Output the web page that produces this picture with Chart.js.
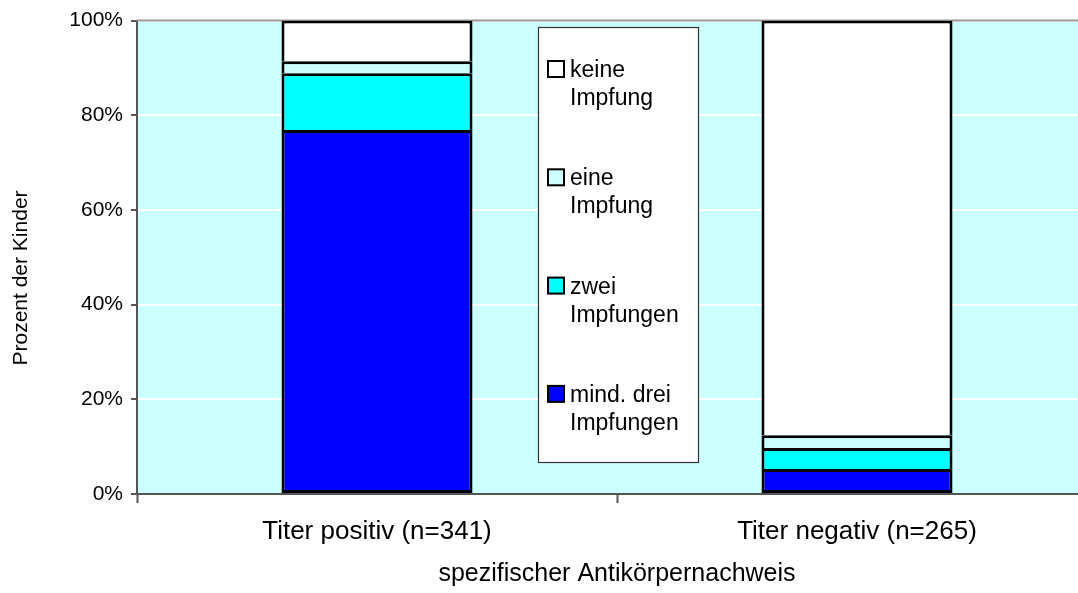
<!DOCTYPE html>
<html><head><meta charset="utf-8">
<script src="https://cdn.jsdelivr.net/npm/chart.js@4.4.0/dist/chart.umd.min.js"></script>
<style>
html,body{margin:0;padding:0;background:#fff;overflow:hidden;width:1078px;height:593px}
#wrap{position:relative;width:1100px;height:593px}
</style></head><body>
<div id="wrap"><canvas id="c" width="1100" height="593"></canvas></div>
<script>
// ---- data ----
const categories = ['Titer positiv (n=341)', 'Titer negativ (n=265)'];
const seriesNames = ['mind. drei Impfungen', 'zwei Impfungen', 'eine Impfung', 'keine Impfung'];
const mindDrei = [76.9, 5.3];
const zwei = [12.0, 4.4];
const eine = [2.5, 2.7];
const keine = [8.6, 87.6];
const yTicks = [0, 20, 40, 60, 80, 100];
const yTitle = 'Prozent der Kinder';
const xTitle = 'spezifischer Antikörpernachweis';
// ---- styles ----
const colors = ['#0000ff', '#00ffff', '#ccffff', '#ffffff'];
const FONT = "'Liberation Sans', Arial, sans-serif";
Chart.defaults.font.family = FONT;
Chart.defaults.color = '#000';

const seriesValues = [mindDrei, zwei, eine, keine];
const datasets = seriesNames.map((name, i) => ({
  label: name,
  data: seriesValues[i],
  backgroundColor: colors[i],
  borderColor: '#000',
  borderWidth: 3,
  borderSkipped: i === 0 ? false : 'start',
  barPercentage: 0.398,
  categoryPercentage: 1.0
}));

const bgPlugin = {
  id: 'bg',
  beforeDraw(chart) {
    const {ctx, chartArea: a} = chart;
    ctx.save();
    ctx.fillStyle = '#ccffff';
    ctx.fillRect(a.left, a.top, a.right - a.left, a.bottom - a.top);
    ctx.restore();
  },
  beforeDatasetsDraw(chart) {
    const {ctx, chartArea: a} = chart;
    ctx.save();
    ctx.strokeStyle = '#999';
    ctx.lineWidth = 2;
    ctx.beginPath();
    ctx.moveTo(a.left, a.top);
    ctx.lineTo(a.right, a.top);
    ctx.stroke();
    ctx.restore();
  },
  afterDraw(chart) {
    const {ctx} = chart;
    ctx.save();
    // y axis title
    ctx.translate(21, 278);
    ctx.rotate(-Math.PI / 2);
    ctx.font = "21px " + FONT;
    ctx.fillStyle = '#000';
    ctx.textAlign = 'center';
    ctx.textBaseline = 'middle';
    ctx.fillText(yTitle, 0, 0);
    ctx.restore();

    // legend
    ctx.save();
    const lx = 538.5, ly = 27.5, lw = 160, lh = 435;
    ctx.fillStyle = '#fff';
    ctx.fillRect(lx, ly, lw, lh);
    ctx.strokeStyle = '#333';
    ctx.lineWidth = 1.2;
    ctx.strokeRect(lx, ly, lw, lh);
    const ds = chart.data.datasets;
    ctx.font = "23px " + FONT;
    ctx.textBaseline = 'alphabetic';
    ctx.textAlign = 'left';
    for (let i = 0; i < ds.length; i++) {
      const d = ds[ds.length - 1 - i];
      const base = 77 + i * 108.3;
      ctx.fillStyle = d.backgroundColor;
      ctx.fillRect(548, base - 16, 16, 16);
      ctx.strokeStyle = '#000';
      ctx.lineWidth = 2;
      ctx.strokeRect(548, base - 16, 16, 16);
      const k = d.label.lastIndexOf(' ');
      const l1 = d.label.slice(0, k), l2 = d.label.slice(k + 1);
      ctx.fillStyle = '#000';
      ctx.fillText(l1, 570, base);
      ctx.fillText(l2, 570, base + 28);
    }
    ctx.restore();
  }
};

new Chart(document.getElementById('c'), {
  type: 'bar',
  data: { labels: categories, datasets },
  options: {
    responsive: false,
    animation: false,
    devicePixelRatio: 1,
    layout: { padding: { top: 18, right: 3, left: 0, bottom: 0 } },
    plugins: { legend: { display: false }, tooltip: { enabled: false } },
    scales: {
      x: {
        stacked: true,
        border: { color: '#555', width: 2 },
        grid: { display: true, drawOnChartArea: false, offset: true, tickColor: '#555', tickLength: 9, tickWidth: 2 },
        ticks: { font: { size: 26 }, color: '#000', padding: 13, maxRotation: 0, autoSkip: false },
        title: { display: true, text: xTitle, font: { size: 25 }, color: '#000', padding: { top: 0, bottom: 4 } },
        afterFit(s) { s.height = 99; }
      },
      y: {
        stacked: true,
        min: 0, max: 100,
        border: { color: '#555', width: 2 },
        grid: { color: '#ffffff', lineWidth: 2, tickColor: '#555', tickLength: 6, tickWidth: 2 },
        ticks: { font: { size: 21 }, color: '#000', padding: 8, callback: v => v + '%' },
        afterBuildTicks(s) { s.ticks = yTicks.map(v => ({ value: v })); },
        afterFit(s) { s.width = 137; }
      }
    }
  },
  plugins: [bgPlugin]
});
</script>
</body></html>
